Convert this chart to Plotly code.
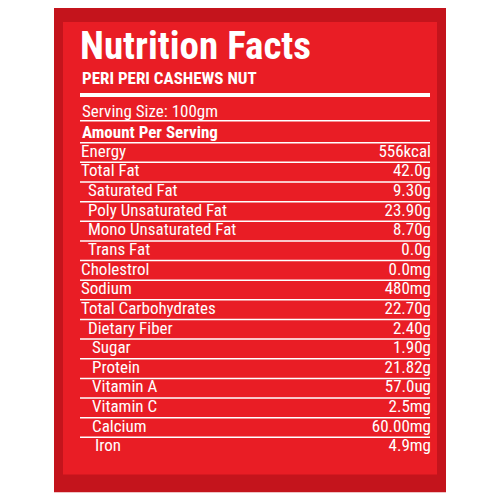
import plotly.graph_objects as go

nutrients = ["Energy", "Total Fat", "Saturated Fat", "Poly Unsaturated Fat", "Mono Unsaturated Fat",
             "Trans Fat", "Cholestrol", "Sodium", "Total Carbohydrates", "Dietary Fiber", "Sugar",
             "Protein", "Vitamin A", "Vitamin C", "Calcium", "Iron"]
amounts = ["556kcal", "42.0g", "9.30g", "23.90g", "8.70g", "0.0g", "0.0mg", "480mg", "22.70g",
           "2.40g", "1.90g", "21.82g", "57.0ug", "2.5mg", "60.00mg", "4.9mg"]
indent = [0, 0, 1, 1, 1, 1, 0, 0, 0, 1, 2, 2, 2, 2, 2, 3]
title = "Nutrition Facts"
subtitle = "PERI PERI CASHEWS NUT"
serving = "Serving Size: 100gm"
amount_hdr = "Amount Per Serving"

FONT = "Liberation Sans Narrow, Roboto Condensed, Arial Narrow, Liberation Sans, sans-serif"
rows = list(range(len(nutrients)))
indent_px = [81, 88, 92, 95]

fig = go.Figure()
fig.add_trace(go.Scatter(x=[indent_px[k] for k in indent], y=rows, mode="text", text=nutrients,
                         textposition="middle right",
                         textfont=dict(family=FONT, size=17, color="white"), hoverinfo="skip"))
fig.add_trace(go.Scatter(x=[431] * len(rows), y=rows, mode="text", text=amounts,
                         textposition="middle left",
                         textfont=dict(family=FONT, size=17, color="white"), hoverinfo="skip"))

shapes = [
    dict(type="rect", xref="x", yref="y", x0=54, x1=446, y0=-7.55, y1=17.3, fillcolor="#c4141c", line_width=0, layer="below"),
    dict(type="rect", xref="x", yref="y", x0=63, x1=437, y0=-6.65, y1=16.4, fillcolor="#e91d25", line_width=0, layer="below"),
    dict(type="line", xref="x", yref="y", x0=80, x1=430, y0=-2.93, y1=-2.93, line=dict(color="white", width=4)),
    dict(type="line", xref="x", yref="y", x0=80, x1=430, y0=-1.62, y1=-1.62, line=dict(color="white", width=1.5)),
]
for r in [-0.5] + [i + 0.5 for i in rows[:-1]]:
    shapes.append(dict(type="line", xref="x", yref="y", x0=80, x1=430, y0=r, y1=r,
                       line=dict(color="white", width=1.5)))

ann = [
    dict(x=78, y=-5.4, text="<b>" + title + "</b>", font=dict(family=FONT, size=39, color="white")),
    dict(x=80, y=-3.8, text="<b>" + subtitle + "</b>", font=dict(family=FONT, size=17, color="white")),
    dict(x=80, y=-2.12, text=serving, font=dict(family=FONT, size=17, color="white")),
    dict(x=80, y=-1.07, text="<b>" + amount_hdr + "</b>", font=dict(family=FONT, size=17, color="white")),
]
for a in ann:
    a.update(xref="x", yref="y", xanchor="left", yanchor="middle", showarrow=False)

# page body has an 8px margin, so offset the ranges by 8px
fig.update_layout(width=500, height=500, margin=dict(l=0, r=0, t=0, b=0),
                  paper_bgcolor="white", plot_bgcolor="white", showlegend=False,
                  shapes=shapes, annotations=ann,
                  xaxis=dict(range=[8, 508], visible=False, fixedrange=True),
                  yaxis=dict(range=[18.1, -7.36], visible=False, fixedrange=True))
fig.write_html("out.html")
